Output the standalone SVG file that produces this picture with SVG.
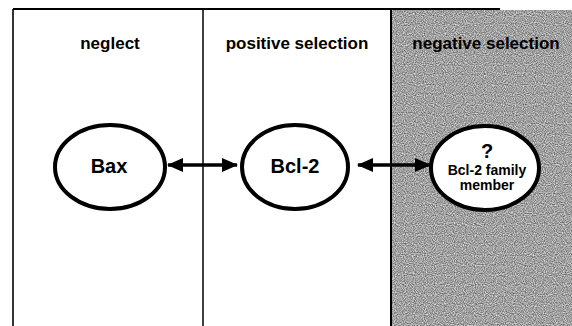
<svg xmlns="http://www.w3.org/2000/svg" width="572" height="326" viewBox="0 0 572 326">
  <style>
    .frame { stroke: #000; fill: none; }
    .node { fill: #fff; stroke: #000; stroke-width: 4; }
    .head { font-family: "Liberation Sans", Arial, sans-serif; font-weight: bold; font-size: 17px; fill: #000; text-anchor: middle; }
    .lbl { font-family: "Liberation Sans", Arial, sans-serif; font-weight: bold; font-size: 20px; fill: #000; text-anchor: middle; }
    .small { font-family: "Liberation Sans", Arial, sans-serif; font-weight: bold; font-size: 14px; fill: #000; text-anchor: middle; }
    .conn { stroke: #000; stroke-width: 3.5; fill: none; marker-start: url(#ah); marker-end: url(#ah); }
  </style>
  <defs>
    <marker id="ah" markerUnits="userSpaceOnUse" viewBox="0 0 16 14" markerWidth="16" markerHeight="14" refX="15" refY="7" orient="auto-start-reverse">
      <path d="M0,0 L16,7 L0,14 z" fill="#000"/>
    </marker>
    <filter id="grain" x="0" y="0" width="100%" height="100%" color-interpolation-filters="sRGB">
      <feTurbulence type="fractalNoise" baseFrequency="0.9" numOctaves="1" seed="7" result="n"/>
      <feColorMatrix in="n" type="matrix" values="0.9 0 0 0 0.18  0.9 0 0 0 0.18  0.9 0 0 0 0.18  0 0 0 0 1"/>
    </filter>
  </defs>

  <rect x="0" y="0" width="572" height="326" fill="#fff"/>

  <g id="panel-negative">
    <rect x="391" y="10" width="181" height="316" fill="#a2a2a2"/>
    <rect x="391" y="10" width="181" height="316" filter="url(#grain)"/>
  </g>

  <g id="frame">
    <line class="frame" x1="13" y1="9" x2="500" y2="9" stroke-width="2"/>
    <line class="frame" x1="13" y1="9" x2="13" y2="326" stroke-width="1.6"/>
    <line class="frame" x1="203" y1="9" x2="203" y2="326" stroke-width="1.5"/>
    <line class="frame" x1="391" y1="9" x2="391" y2="326" stroke-width="2"/>
  </g>

  <g id="headings">
    <text class="head" x="110" y="49">neglect</text>
    <text class="head" x="297" y="49">positive selection</text>
    <text class="head" x="486" y="49">negative selection</text>
  </g>

  <g id="connectors">
    <line class="conn" x1="168" y1="165" x2="237" y2="165"/>
    <line class="conn" x1="358" y1="165" x2="430" y2="165"/>
  </g>

  <g id="bax">
    <ellipse class="node" cx="110" cy="167" rx="55" ry="42"/>
    <text class="lbl" x="109" y="173">Bax</text>
  </g>

  <g id="bcl2">
    <ellipse class="node" cx="295" cy="167" rx="53" ry="42"/>
    <text class="lbl" x="295" y="173">Bcl-2</text>
  </g>

  <g id="bcl2-family">
    <ellipse class="node" cx="485" cy="168" rx="54" ry="42"/>
    <text class="lbl" x="487" y="158">?</text>
    <text class="small" x="487" y="175">Bcl-2 family</text>
    <text class="small" x="487" y="190">member</text>
  </g>
</svg>
